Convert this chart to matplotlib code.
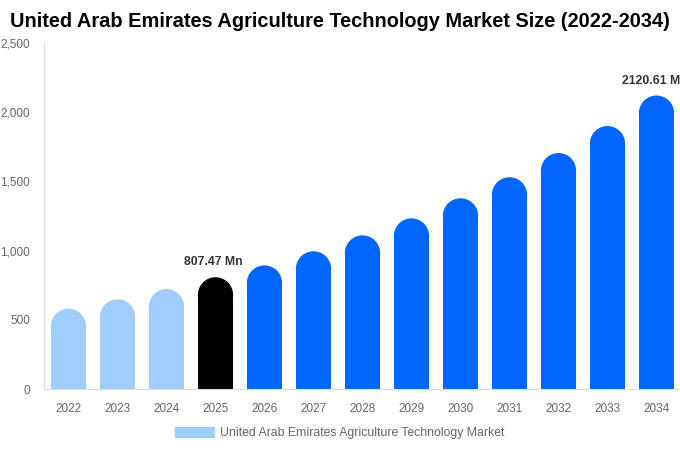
import matplotlib.pyplot as plt
from matplotlib.patches import Ellipse
from matplotlib.ticker import FuncFormatter

plt.rcParams['font.family'] = ['Liberation Sans', 'DejaVu Sans']

years = ['2022', '2023', '2024', '2025', '2026', '2027', '2028',
         '2029', '2030', '2031', '2032', '2033', '2034']
values = [580, 648, 722, 807.47, 893, 995, 1110, 1233, 1378, 1530, 1705, 1900, 2120.61]
colors = ['#a1cdfd'] * 3 + ['#000000'] + ['#0066ff'] * 9
labels = {3: '807.47 Mn', 12: '2120.61 Mn'}
legend_label = 'United Arab Emirates Agriculture Technology Market'

fig = plt.figure(figsize=(6.8, 4.5), dpi=100)
ax = fig.add_axes([44 / 680, 61 / 450, 637 / 680, 346 / 450])
ax.set_xlim(-0.5, len(years) - 0.5)
ax.set_ylim(0, 2500)

w = 0.72
# pixel size of one data unit, to keep the caps round
x0, y0 = ax.transData.transform((0, 0))
x1, y1 = ax.transData.transform((1, 1))
px_x = x1 - x0
px_y = y1 - y0
ry = (w / 2) * px_x / px_y

xs = list(range(len(years)))
for x, v, c in zip(xs, values, colors):
    ax.bar(x, v - ry, width=w, color=c, linewidth=0)
    ax.add_patch(Ellipse((x, v - ry), w, 2 * ry, color=c, linewidth=0))

for i, txt in labels.items():
    ax.text(xs[i] - 0.04, values[i] + 65, txt, ha='center', va='bottom',
            fontsize=8.8, fontweight='bold', color='#333333', clip_on=False)

ax.set_xticks(xs)
ax.set_xticklabels(years)
ax.set_yticks([0, 500, 1000, 1500, 2000, 2500])
ax.yaxis.set_major_formatter(FuncFormatter(lambda v, p: f'{int(v):,}'))
ax.tick_params(axis='both', length=0, labelsize=8.5, labelcolor='#666666')
ax.tick_params(axis='y', pad=10)
ax.tick_params(axis='x', pad=10)

for s in ['top', 'right']:
    ax.spines[s].set_visible(False)
for s in ['left', 'bottom']:
    ax.spines[s].set_color('#dddddd')
    ax.spines[s].set_linewidth(0.8)

fig.text(0.5, 0.953, 'United Arab Emirates Agriculture Technology Market Size (2022-2034)',
         ha='center', va='center', fontsize=14.4, fontweight='bold', color='#000000')

leg_handle = plt.Rectangle((0, 0), 1, 1, color='#a1cdfd')
fig.legend([leg_handle], [legend_label], loc='center', bbox_to_anchor=(0.5, 0.038),
           frameon=False, fontsize=8.8, labelcolor='#666666',
           handlelength=3.2, handleheight=0.9, handletextpad=0.5)

fig.savefig('out.png', dpi=100)
